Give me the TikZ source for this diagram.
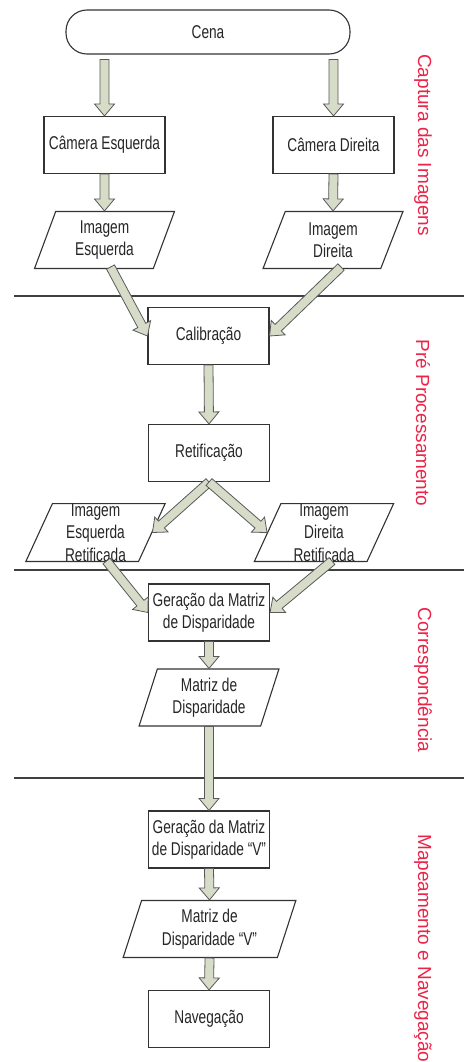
\documentclass[tikz,border=0pt]{standalone}
\usepackage{fontspec}
\setmainfont{Liberation Sans}
\newfontfamily\caixafont[FakeStretch=0.74]{Liberation Sans}
\usetikzlibrary{shapes,arrows,calc,positioning}
\definecolor{setacor}{RGB}{214,220,200}
\definecolor{fasecor}{RGB}{236,36,72}
\tikzset{
  caixa/.style = {align=center, inner sep=0pt, fill=white,
    draw=black!80, line width=1.1pt, text=black!85,
    font=\caixafont\fontsize{18.5}{22.5}\selectfont},
  term/.style = {caixa, rectangle, rounded corners=21pt,
    minimum width=284pt, minimum height=44pt},% inicio
  proc/.style = {caixa, rectangle, minimum width=121pt,
    minimum height=57pt},% processo
  dado/.style = {caixa, trapezium, trapezium left angle=72,
    trapezium right angle=108, trapezium stretches=true,
    minimum width=140pt, minimum height=57pt},% dado / imagem
  fase/.style = {rotate=-90, text=fasecor, inner sep=0pt,
    font=\fontsize{19}{22}\selectfont},
  divisa/.style = {draw=black!75, line width=1.5pt},
  seta/.style = {draw=black!65, line width=0.8pt, fill=setacor,
    to path={let \p1=(\tikztostart), \p2=(\tikztotarget),
      \n1={atan2(\y2-\y1,\x2-\x1)} in
      ($(\p1)+(\n1+90:4.5pt)$)
      -- ($(\p2)+(\n1+180:12pt)+(\n1+90:4.5pt)$)
      -- ($(\p2)+(\n1+180:12pt)+(\n1+90:10pt)$)
      -- (\p2)
      -- ($(\p2)+(\n1+180:12pt)+(\n1-90:10pt)$)
      -- ($(\p2)+(\n1+180:12pt)+(\n1-90:4.5pt)$)
      -- ($(\p1)+(\n1-90:4.5pt)$) -- cycle}}
}
\begin{document}
\begin{tikzpicture}[x=1pt,y=-1pt]
  \useasboundingbox (0,0) rectangle (464,1062);
  % linhas das fases
  \foreach \y in {296,570,778}
    \draw[divisa] (14,\y) -- (464,\y);
  % captura
  \node [term] (cena) at (208,32) {Cena};
  \node [proc] (camesq) at (104.5,145) {Câmera Esquerda};
  \node [proc] (camdir) at (333.5,145) {Câmera Direita};
  \node [dado] (imgesq) at (104.5,240) {Imagem\\Esquerda};
  \node [dado] (imgdir) at (333,240) {Imagem\\Direita};
  % pre processamento
  \node [proc] (calib) at (208.5,336) {Calibração};
  \node [proc] (retif) at (209,453) {Retificação};
  \node [dado] (imgesqret) at (95.5,532.5) {Imagem\\Esquerda\\Retificada};
  \node [dado] (imgdirret) at (324,532.5) {Imagem\\Direita\\Retificada};
  % correspondencia
  \node [proc] (gerdisp) at (209,612.5) {Geração da Matriz\\de Disparidade};
  \node [dado] (matdisp) at (209,697.5) {Matriz de\\Disparidade};
  % mapeamento
  \node [proc] (gerdispv) at (209,839.5) {Geração da Matriz\\de Disparidade “V”};
  \node [dado, minimum width=173pt] (matdispv) at (209.5,929) {Matriz de\\Disparidade “V”};
  \node [proc] (naveg) at (209,1019) {Navegação};
  % setas
  \draw[seta] ($(cena.south -| camesq.north)+(0,5)$) to (camesq.north);
  \draw[seta] ($(cena.south -| camdir.north)+(0,5)$) to (camdir.north);
  \draw[seta] (camesq.south) to (imgesq.north);
  \draw[seta] (camdir.south) to (imgdir.north);
  \draw[seta] ($(imgesq.south)+(6,-2)$) to (calib.west);
  \draw[seta] ($(imgdir.south)+(8,-2)$) to (calib.east);
  \draw[seta] (calib.south) to (retif.north);
  \draw[seta] (retif.south) to (imgesqret.east);
  \draw[seta] (retif.south) to (imgdirret.west);
  \draw[seta] ($(imgesqret.south)+(11,-1)$) to (gerdisp.west);
  \draw[seta] ($(imgdirret.south)+(8,-1)$) to (gerdisp.east);
  \draw[seta] (gerdisp.south) to (matdisp.north);
  \draw[seta] (matdisp.south) to (gerdispv.north);
  \draw[seta] (gerdispv.south) to (matdispv.north);
  \draw[seta] (matdispv.south) to (naveg.north);
  % fases
  \node [fase] (f1) at (423,145) {Captura das Imagens};
  \node [fase] (f2) at (423,423) {Pré Processamento};
  \node [fase] (f3) at (423,680) {Correspondência};
  \node [fase] (f4) at (423,948.5) {Mapeamento e Navegação};
\end{tikzpicture}
\end{document}
